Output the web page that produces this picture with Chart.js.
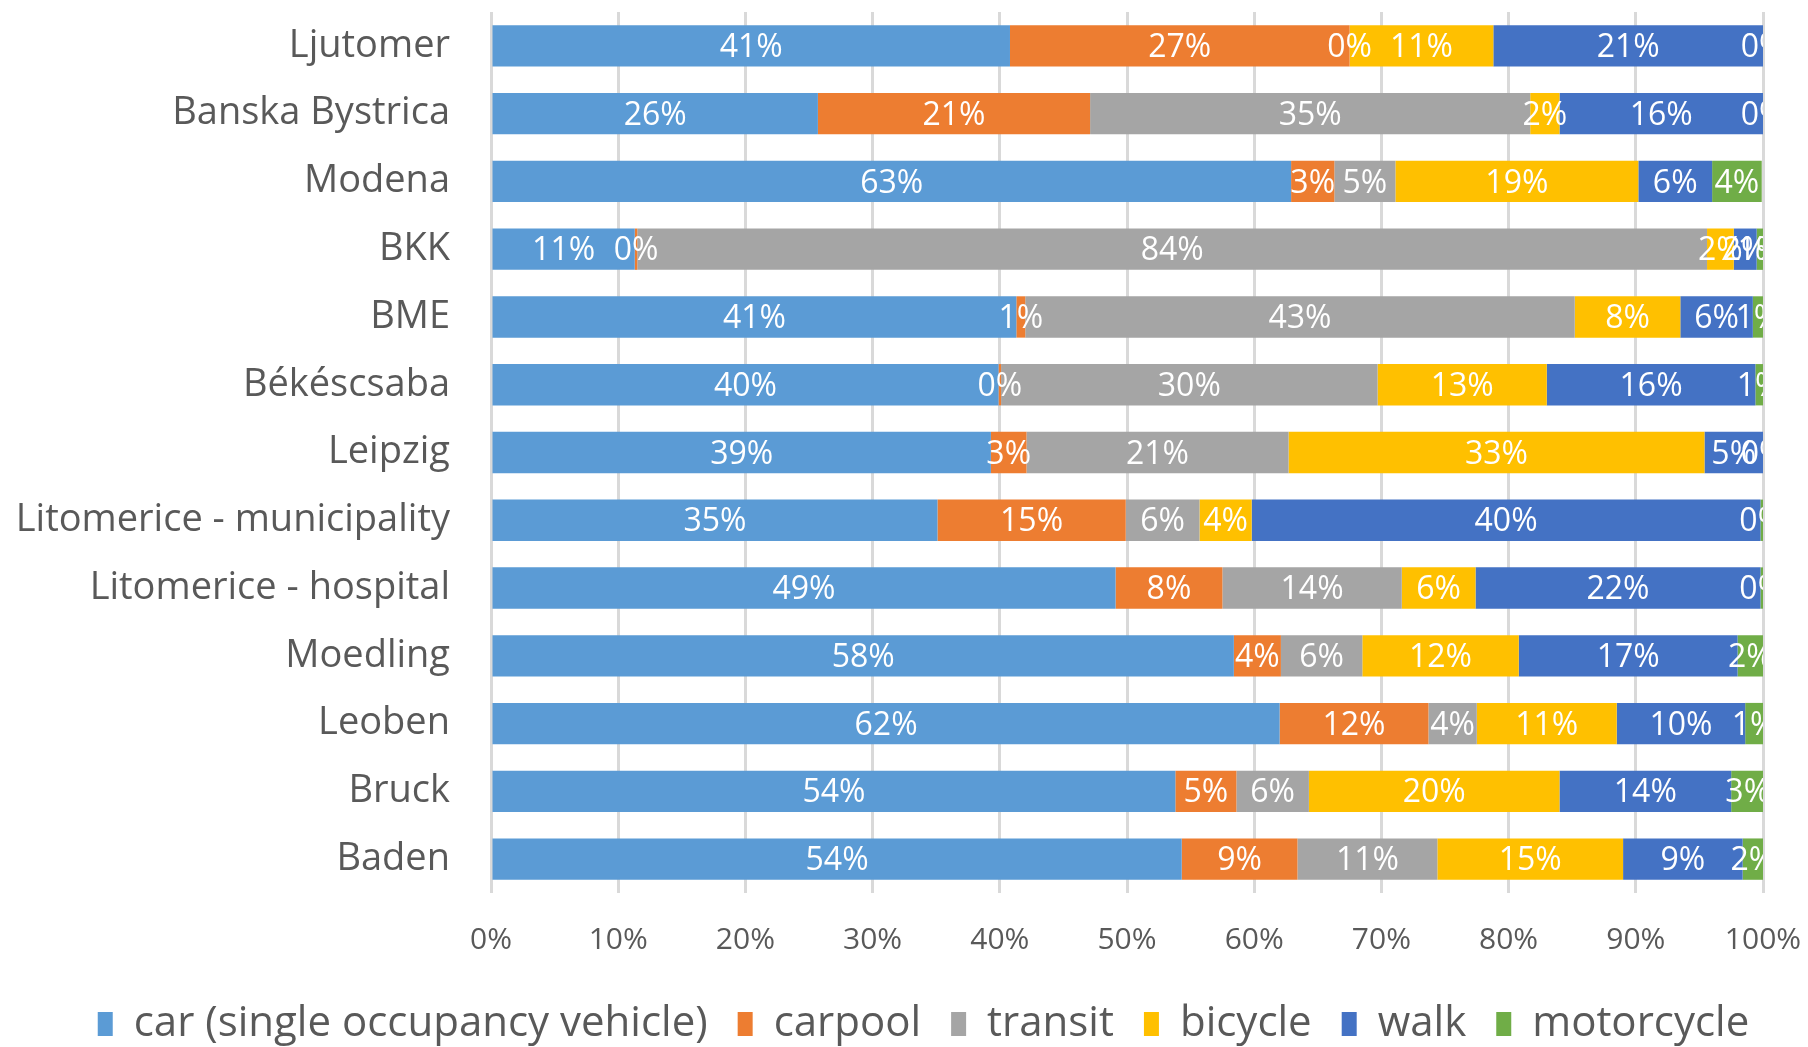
<!DOCTYPE html>
<html>
<head>
<meta charset="utf-8">
<script src="https://cdn.jsdelivr.net/npm/chart.js@4/dist/chart.umd.min.js"></script>
<style>
  body { margin: 0; background: #fff; }
  #wrap { width: 1808px; height: 1047px; }
</style>
</head>
<body>
<div id="wrap"><canvas id="myChart" width="1808" height="1047"></canvas></div>
<script>
// categories, top to bottom
var sites = ['Ljutomer', 'Banska Bystrica', 'Modena', 'BKK', 'BME', 'Békéscsaba', 'Leipzig',
  'Litomerice - municipality', 'Litomerice - hospital', 'Moedling', 'Leoben', 'Bruck', 'Baden'];

// share of trips (%) per mode
var car        = [40.8, 25.7, 62.9, 11.3, 41.3, 39.9, 39.3, 35.1, 49.1, 58.4, 62.0, 53.8, 54.3];
var carpool    = [26.7, 21.4,  3.4,  0.2,  0.7,  0.2,  2.8, 14.8,  8.4,  3.7, 11.7,  4.8,  9.1];
var transit    = [ 0.0, 34.6,  4.8, 84.1, 43.2, 29.6, 20.6,  5.8, 14.1,  6.4,  3.8,  5.7, 11.0];
var bicycle    = [11.3,  2.3, 19.1,  2.1,  8.3, 13.3, 32.7,  4.1,  5.8, 12.3, 11.0, 19.7, 14.6];
var walk       = [21.2, 16.0,  5.8,  1.8,  5.7, 16.4,  4.6, 40.0, 22.4, 17.2, 10.1, 13.5,  9.4];
var motorcycle = [ 0.0,  0.0,  3.9,  0.5,  0.8,  0.6,  0.0,  0.2,  0.2,  2.0,  1.4,  2.6,  1.6];

var xTicks = [0, 10, 20, 30, 40, 50, 60, 70, 80, 90, 100];

var FONT = 'Open Sans, sans-serif';

// white % labels in the middle of every segment (like Excel data labels)
var barLabels = {
  id: 'barLabels',
  afterDatasetsDraw: function(chart) {
    var ctx = chart.ctx, area = chart.chartArea;
    ctx.save();
    ctx.beginPath();
    ctx.rect(area.left, area.top, area.right - area.left, area.bottom - area.top);
    ctx.clip();
    ctx.font = '32px ' + FONT;
    ctx.fillStyle = '#ffffff';
    ctx.textAlign = 'center';
    ctx.textBaseline = 'middle';
    chart.data.datasets.forEach(function(ds, i) {
      chart.getDatasetMeta(i).data.forEach(function(bar, j) {
        var cx = (bar.x + bar.base) / 2;
        ctx.fillText(Math.round(ds.data[j]) + '%', cx, bar.y + 2);
      });
    });
    ctx.restore();
  }
};

// legend sits a bit right of the canvas centre in the original
var legendShift = {
  id: 'legendShift',
  afterLayout: function(chart) {
    chart.legend.left += 42;
    chart.legend.right += 42;
  }
};

function mk(label, data, color) {
  return { label: label, data: data, backgroundColor: color, borderWidth: 0,
           barPercentage: 0.61, categoryPercentage: 1.0 };
}

var ctx = document.getElementById('myChart').getContext('2d');
var chart = new Chart(ctx, {
  type: 'bar',
  data: {
    labels: sites,
    datasets: [
      mk('car (single occupancy vehicle)', car, '#5B9BD5'),
      mk('carpool', carpool, '#ED7D31'),
      mk('transit', transit, '#A5A5A5'),
      mk('bicycle', bicycle, '#FFC000'),
      mk('walk', walk, '#4472C4'),
      mk('motorcycle', motorcycle, '#70AD47')
    ]
  },
  options: {
    indexAxis: 'y',
    responsive: false,
    animation: false,
    layout: { padding: { top: 12, right: 45, bottom: -8, left: 0 } },
    plugins: {
      tooltip: { enabled: false },
      legend: {
        position: 'bottom',
        labels: {
          color: '#595959',
          font: { family: FONT, size: 42 },
          boxWidth: 15, boxHeight: 24,
          padding: 30
        }
      }
    },
    scales: {
      x: {
        stacked: true,
        min: 0, max: 100,
        afterBuildTicks: function(s) { s.ticks = xTicks.map(function(v) { return { value: v }; }); },
        afterFit: function(s) { s.height = 80; s.paddingLeft = 0; s.paddingRight = 0; },
        ticks: {
          color: '#595959',
          font: { family: FONT, size: 30 },
          padding: 29,
          callback: function(v) { return v + '%'; }
        },
        grid: { color: '#d9d9d9', lineWidth: 3, drawTicks: false },
        border: { display: false }
      },
      y: {
        stacked: true,
        afterFit: function(s) { s.width = 491; s.paddingTop = 0; s.paddingBottom = 0; },
        ticks: {
          color: '#595959',
          font: { family: FONT, size: 38 },
          padding: 33
        },
        grid: { display: false },
        border: { display: false }
      }
    }
  },
  plugins: [barLabels, legendShift]
});
</script>
</body>
</html>
